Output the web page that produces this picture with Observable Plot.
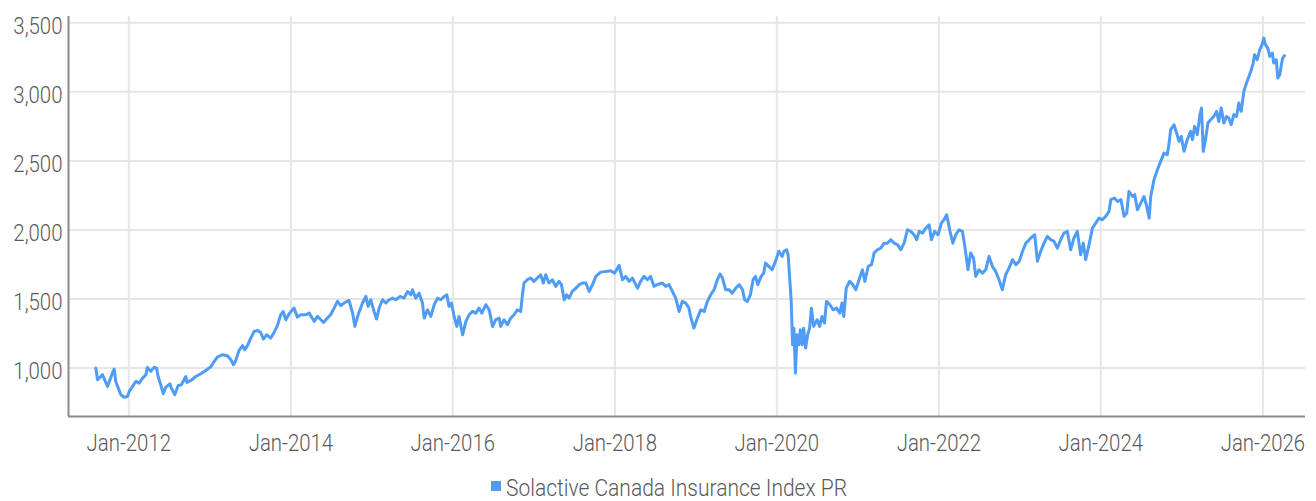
<!DOCTYPE html>
<html>
<head>
<meta charset="utf-8">
<script src="https://cdn.jsdelivr.net/npm/d3@7"></script>
<script src="https://cdn.jsdelivr.net/npm/@observablehq/plot@0.6"></script>
<style>
  html, body { margin: 0; padding: 0; background: #fff; }
  #wrap { position: relative; width: 1316px; height: 501px; overflow: hidden; }
  #legend-swatch { position: absolute; left: 491px; top: 481px; width: 10px; height: 10px; background: #4e9cf6; }
  #legend-text { position: absolute; left: 506px; top: 476px; line-height: 24px; font-family: Roboto, sans-serif; font-weight: 300; font-size: 24px; color: #595959; white-space: nowrap; transform: scaleX(0.875); transform-origin: 0 0; }
</style>
</head>
<body>
<div id="wrap">
  <div id="chart"></div>
  <div id="legend-swatch"></div>
  <div id="legend-text">Solactive Canada Insurance Index PR</div>
</div>
<script>
const seriesName = "Solactive Canada Insurance Index PR";

const dates = [
"2011-08-05","2011-08-13","2011-09-04","2011-09-27","2011-10-19","2011-10-27","2011-11-03","2011-11-26","2011-12-11","2011-12-26",
"2012-01-03","2012-01-18","2012-02-02","2012-02-17","2012-03-03","2012-03-18","2012-03-25","2012-04-09","2012-04-24","2012-05-05",
"2012-05-12","2012-05-24","2012-06-04","2012-06-16","2012-07-04","2012-07-11","2012-07-26","2012-08-10","2012-08-25","2012-09-14",
"2012-09-19","2012-10-07","2012-10-29","2012-11-21","2012-12-13","2013-01-05","2013-01-20","2013-02-04","2013-02-26","2013-03-21",
"2013-04-05","2013-04-17","2013-04-27","2013-05-12","2013-05-28","2013-06-07","2013-06-19","2013-07-04","2013-07-19","2013-08-03",
"2013-08-18","2013-08-30","2013-09-14","2013-10-02","2013-10-17","2013-11-01","2013-11-16","2013-11-27","2013-12-09","2013-12-24",
"2014-01-15","2014-01-30","2014-02-14","2014-03-09","2014-03-24","2014-04-16","2014-05-01","2014-05-16","2014-05-28","2014-06-15",
"2014-06-29","2014-07-15","2014-07-30","2014-08-14","2014-08-29","2014-09-20","2014-10-06","2014-10-16","2014-10-31","2014-11-20",
"2014-12-05","2014-12-15","2014-12-27","2015-01-11","2015-01-22","2015-02-03","2015-02-18","2015-03-05","2015-03-20","2015-04-04",
"2015-04-19","2015-05-08","2015-05-26","2015-06-11","2015-06-26","2015-07-03","2015-07-18","2015-08-02","2015-08-17","2015-08-25",
"2015-09-09","2015-09-24","2015-10-09","2015-10-24","2015-11-08","2015-11-23","2015-12-05","2015-12-15","2015-12-26","2016-01-07",
"2016-01-19","2016-01-29","2016-02-14","2016-02-29","2016-03-14","2016-03-30","2016-04-14","2016-04-28","2016-05-11","2016-05-29",
"2016-06-13","2016-06-28","2016-07-13","2016-07-28","2016-08-04","2016-08-19","2016-09-03","2016-09-18","2016-10-03","2016-10-18",
"2016-11-02","2016-11-10","2016-11-17","2016-12-02","2016-12-17","2017-01-01","2017-01-16","2017-01-31","2017-02-12","2017-02-23",
"2017-03-10","2017-03-25","2017-04-09","2017-04-24","2017-05-05","2017-05-17","2017-05-29","2017-06-08","2017-06-23","2017-07-09",
"2017-07-24","2017-08-08","2017-08-23","2017-09-07","2017-09-22","2017-10-07","2017-10-29","2017-11-21","2017-12-13","2017-12-31",
"2018-01-20","2018-02-04","2018-02-19","2018-03-06","2018-03-21","2018-04-13","2018-04-27","2018-05-12","2018-05-27","2018-06-11",
"2018-06-26","2018-07-11","2018-08-03","2018-08-18","2018-09-02","2018-09-17","2018-10-02","2018-10-17","2018-11-01","2018-11-16",
"2018-12-01","2018-12-08","2018-12-23","2019-01-08","2019-01-23","2019-02-07","2019-02-22","2019-03-09","2019-03-24","2019-04-08",
"2019-04-20","2019-05-01","2019-05-15","2019-05-30","2019-06-14","2019-06-30","2019-07-15","2019-07-30","2019-08-09","2019-08-21",
"2019-09-04","2019-09-16","2019-09-27","2019-10-07","2019-10-22","2019-11-03","2019-11-11","2019-11-26","2019-12-11","2019-12-26",
"2020-01-10","2020-01-25","2020-02-02","2020-02-14","2020-02-21","2020-02-29","2020-03-06","2020-03-12","2020-03-18","2020-03-25",
"2020-04-01","2020-04-09","2020-04-16","2020-04-24","2020-05-01","2020-05-10","2020-05-19","2020-05-28","2020-06-05","2020-06-15",
"2020-07-01","2020-07-12","2020-07-23","2020-08-03","2020-08-12","2020-08-27","2020-09-11","2020-09-26","2020-10-11","2020-10-21",
"2020-10-29","2020-11-09","2020-11-24","2020-12-09","2020-12-22","2021-01-06","2021-01-21","2021-02-01","2021-02-16","2021-03-03",
"2021-03-15","2021-03-30","2021-04-14","2021-04-29","2021-05-14","2021-05-29","2021-06-13","2021-06-28","2021-07-13","2021-07-28",
"2021-08-12","2021-08-27","2021-09-11","2021-09-23","2021-10-04","2021-10-19","2021-11-03","2021-11-18","2021-11-28","2021-12-13",
"2021-12-28","2022-01-12","2022-01-24","2022-02-05","2022-02-20","2022-03-05","2022-03-18","2022-04-02","2022-04-17","2022-04-29",
"2022-05-12","2022-05-24","2022-06-06","2022-06-16","2022-07-01","2022-07-16","2022-07-31","2022-08-15","2022-08-30","2022-09-14",
"2022-09-29","2022-10-14","2022-10-29","2022-11-13","2022-11-29","2022-12-14","2022-12-29","2023-01-13","2023-01-28","2023-02-12",
"2023-02-27","2023-03-09","2023-03-21","2023-04-05","2023-04-20","2023-05-05","2023-05-20","2023-06-04","2023-06-19","2023-07-04",
"2023-07-19","2023-08-03","2023-08-18","2023-09-02","2023-09-17","2023-10-02","2023-10-14","2023-10-25","2023-11-09","2023-11-24",
"2023-12-09","2023-12-24","2024-01-08","2024-01-23","2024-02-07","2024-02-15","2024-03-02","2024-03-17","2024-04-01","2024-04-15",
"2024-04-27","2024-05-07","2024-05-23","2024-06-02","2024-06-14","2024-06-29","2024-07-14","2024-07-26","2024-08-06","2024-08-13",
"2024-08-28","2024-09-12","2024-09-27","2024-10-12","2024-10-27","2024-11-04","2024-11-11","2024-11-26","2024-12-08","2024-12-19",
"2024-12-29","2025-01-10","2025-01-25","2025-02-09","2025-02-17","2025-02-27","2025-03-11","2025-03-23","2025-03-30","2025-04-07",
"2025-04-17","2025-04-28","2025-05-10","2025-05-25","2025-06-06","2025-06-16","2025-06-27","2025-07-09","2025-07-21","2025-07-31",
"2025-08-11","2025-08-23","2025-09-04","2025-09-14","2025-09-25","2025-10-07","2025-10-19","2025-10-30","2025-11-10","2025-11-18",
"2025-11-24","2025-12-06","2025-12-18","2025-12-28","2026-01-05","2026-01-12","2026-01-23","2026-02-01","2026-02-12","2026-02-19",
"2026-03-02","2026-03-09","2026-03-18","2026-03-24","2026-03-31","2026-04-08"
];

const values = [
999,914,951,866,963,992,902,806,788,793,
830,866,902,890,926,951,1004,975,1004,999,
938,878,813,861,885,854,806,871,878,938,
895,909,938,958,982,1008,1047,1079,1096,1088,
1059,1023,1054,1127,1161,1132,1161,1216,1264,1272,
1257,1209,1240,1216,1257,1306,1385,1409,1349,1393,
1434,1368,1385,1385,1397,1337,1373,1349,1330,1361,
1385,1434,1482,1451,1470,1489,1397,1301,1385,1470,
1518,1446,1494,1409,1354,1434,1494,1470,1494,1506,
1494,1518,1506,1554,1530,1566,1506,1542,1470,1361,
1421,1373,1458,1506,1494,1518,1530,1446,1470,1373,
1301,1373,1240,1337,1385,1409,1397,1434,1397,1458,
1421,1300,1350,1361,1301,1349,1313,1361,1385,1421,
1409,1530,1615,1639,1651,1627,1651,1675,1615,1675,
1615,1639,1591,1627,1603,1494,1530,1506,1554,1578,
1603,1615,1615,1554,1603,1663,1694,1699,1704,1687,
1743,1639,1663,1627,1651,1578,1627,1663,1639,1663,
1591,1603,1615,1591,1603,1554,1506,1409,1482,1470,
1433,1373,1288,1361,1421,1409,1482,1530,1567,1639,
1680,1651,1567,1567,1542,1578,1603,1567,1494,1482,
1530,1639,1663,1603,1663,1687,1760,1736,1711,1772,
1845,1808,1845,1856,1820,1627,1482,1168,1288,962,
1240,1168,1277,1168,1288,1144,1240,1288,1433,1301,
1349,1301,1373,1325,1482,1458,1421,1433,1397,1470,
1373,1578,1627,1603,1567,1639,1711,1627,1736,1748,
1833,1856,1868,1904,1904,1929,1904,1893,1856,1904,
2001,1989,1965,1929,1989,1977,2013,2037,1929,1989,
1965,2049,2073,2110,1989,1904,1965,2001,1989,1868,
1711,1832,1796,1663,1711,1687,1711,1808,1736,1699,
1639,1567,1675,1723,1784,1748,1772,1845,1904,1929,
1953,1965,1772,1845,1904,1953,1929,1917,1868,1929,
1977,1989,1856,1941,1989,1820,1904,1784,1893,2013,
2049,2085,2073,2098,2134,2219,2230,2206,2219,2098,
2122,2279,2242,2255,2146,2194,2242,2170,2085,2242,
2364,2436,2496,2556,2545,2629,2726,2762,2701,2641,
2677,2569,2653,2714,2653,2750,2690,2835,2883,2569,
2653,2774,2798,2822,2859,2786,2883,2774,2822,2810,
2762,2835,2822,2920,2859,3003,3064,3112,3161,3209,
3269,3233,3306,3342,3390,3342,3317,3257,3281,3209,
3233,3100,3124,3185,3245,3262
];

const xTickLabels = ["2012-01-01","2014-01-01","2016-01-01","2018-01-01","2020-01-01","2022-01-01","2024-01-01","2026-01-01"];
const yTickValues = [1000, 1500, 2000, 2500, 3000, 3500];
const xDomain = ["2011-04-04", "2026-07-12"];
const yDomain = [648, 3546];

const data = dates.map((d, i) => ({date: new Date(d), value: values[i], series: seriesName}));
const xTicks = xTickLabels.map(d => new Date(d));
const xDom = xDomain.map(d => new Date(d));

const lineColor = "#4e9cf6";
const gridColor = "#e6e6e6";
const axisColor = "#8a8a8a";
const textColor = "#595959";

const chart = Plot.plot({
  width: 1316,
  height: 460,
  marginLeft: 68,
  marginRight: 11,
  marginTop: 16,
  marginBottom: 44,
  style: {fontFamily: "Roboto, sans-serif", fontSize: "24px", fontWeight: 300, color: textColor, background: "#fff", overflow: "visible"},
  x: {type: "utc", domain: xDom},
  y: {domain: yDomain},
  marks: [
    Plot.ruleX(xTicks, {stroke: gridColor, strokeWidth: 2}),
    Plot.ruleY(yTickValues, {stroke: gridColor, strokeWidth: 2}),
    Plot.axisX({ticks: xTicks, tickFormat: d3.utcFormat("%b-%Y"), tickSize: 0, tickPadding: 17, label: null, fill: textColor}),
    Plot.axisY({ticks: yTickValues, tickFormat: d3.format(","), tickSize: 0, tickPadding: 6, dy: 3, label: null, fill: textColor}),
    Plot.lineY(data, {x: "date", y: "value", stroke: lineColor, strokeWidth: 3, strokeLinejoin: "round", strokeLinecap: "round"}),
    Plot.ruleX([xDom[0]], {stroke: axisColor, strokeWidth: 2}),
    Plot.ruleY([yDomain[0]], {stroke: axisColor, strokeWidth: 2})
  ]
});

document.getElementById("chart").appendChild(chart);

// condense the tick labels to match the narrow typeface of the reference
chart.querySelectorAll("text").forEach(t => {
  const w = t.getComputedTextLength();
  if (w > 0) {
    t.setAttribute("textLength", (w * 0.85).toFixed(1));
    t.setAttribute("lengthAdjust", "spacingAndGlyphs");
  }
});
</script>
</body>
</html>
